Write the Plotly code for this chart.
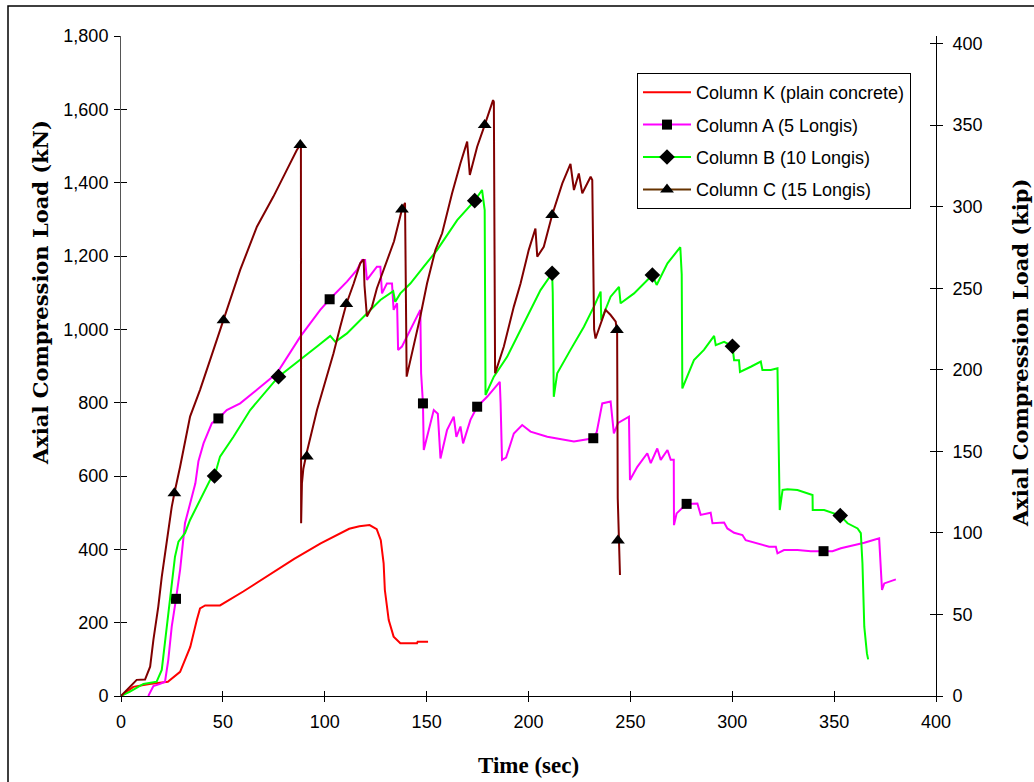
import plotly.graph_objects as go

# ---- Column K (plain concrete) ----
k_time = [0, 6, 14, 23, 29, 34, 37.2, 38.8, 41.3, 48.6, 60, 72, 85, 98, 105, 112, 117, 122,
          125.5, 127.5, 128.9, 129.5, 131.4, 133.8, 137.1, 145.3, 145.6, 150.7]
k_load = [0, 25, 33, 39, 66, 134, 207, 239, 247, 247, 285, 327, 374, 416, 436, 456, 463, 466,
          455, 425, 362, 289, 207, 162, 144, 144, 148, 148]

# ---- Column A (5 Longis) ----
a_time = [13.4, 15.9, 19.2, 21.6, 23.2, 24.9, 27, 29, 31.4, 34, 36.5, 38, 40.5, 44.6, 47.8,
          51.9, 58.5, 66.7, 76.5, 88, 97.8, 102.4, 110.9, 115.8, 118.3, 119.8, 120.7, 125.6,
          127.3, 128.1, 130.5, 133, 133.8, 135.5, 136, 137.9, 143.6, 146.9, 147.3, 148.2, 148.6,
          151.8, 153.5, 155.5, 156.8, 160, 163.3, 164.6, 166.6, 167.9, 171.5, 174.8, 179.7,
          185.9, 186.3, 187, 189, 192.8, 196.9, 201, 209.2, 222.3, 231.8, 233.5, 236.2, 240.3,
          241.9, 244, 249.3, 249.8, 253.4, 258.3, 260, 263.2, 264.9, 268.2, 269.8, 271.3, 271.4,
          272.7, 277.6, 282.9, 284.5, 289.4, 290.3, 296, 297.6, 300.9, 305, 306.6, 312.4, 318.1,
          321.4, 322.2, 325.4, 332, 338.6, 344.8, 349.2, 353.3, 358.2, 364.8, 368.9, 372.1,
          373.5, 374.6, 380.3]
a_load = [0, 27, 33, 39, 98, 189, 265, 344, 471, 530, 580, 640, 689, 744, 757,
          780, 798, 835, 880, 980, 1053, 1082, 1130, 1162, 1189, 1189, 1135, 1171,
          1171, 1098, 1125, 1125, 1053, 1071, 944, 953, 1016, 1053, 880, 798, 671,
          744, 780, 770, 648, 725, 762, 707, 735, 689, 753, 789, 816,
          857, 800, 644, 650, 716, 739, 721, 707, 694, 703, 720, 798, 803,
          716, 745, 762, 589, 625, 662, 635, 675, 644, 671, 644, 644, 466,
          498, 524, 525, 494, 500, 471, 473, 457, 445, 439, 425, 416, 407,
          407, 389, 398, 398, 395, 395, 395, 403, 409, 418, 425, 430,
          289, 307, 318]
a_mark_time = [27, 47.8, 102.4, 148.2, 174.8, 231.8, 277.6, 344.8]
a_mark_load = [265, 757, 1082, 798, 789, 703, 524, 395]

# ---- Column B (10 Longis) ----
b_time = [0, 4.4, 11, 17.5, 20, 22.5, 24.9, 26.5, 28.2, 31.4, 33.9, 38.8, 43.7, 45.9, 48.6,
          55.2, 63.4, 77.3, 88, 96.2, 102.7, 105.2, 110.9, 120.7, 127.3, 133.6, 134.6, 137.1,
          142, 148.6, 155.1, 165, 173.6, 177.2, 178.5, 178.9, 183, 189.5, 194.4, 201, 205.9,
          211.6, 211.9, 212.4, 214.1, 220.6, 227.2, 232.1, 235.4, 235.7, 240.3, 244.4, 245.2,
          251.8, 260.8, 262.9, 268.2, 274.5, 275.2, 275.5, 277.1, 281.2, 286.1, 291.1, 291.9,
          296, 300.1, 300.9, 303.3, 303.8, 309.1, 314, 314.8, 318.9, 322.2, 323.3, 324.7, 327.1,
          332, 337, 339.4, 339.5, 345.1, 353, 356.6, 361.5, 363.1, 363.9, 364.8, 366.1, 366.7]
b_load = [0, 12, 33, 39, 71, 189, 298, 380, 421, 444, 480, 535, 589, 600, 653,
          707, 780, 871, 916, 953, 982, 966, 989, 1044, 1080, 1104, 1075, 1098,
          1125, 1171, 1216, 1298, 1351, 1380, 1325, 821, 871, 925, 980, 1053, 1107,
          1153, 1100, 816, 880, 944, 1007, 1062, 1103, 1025, 1089, 1116, 1071,
          1098, 1148, 1121, 1180, 1224, 1150, 839, 862, 916, 944, 982, 957,
          966, 954, 916, 916, 884, 898, 912, 889, 889, 894, 507, 562, 564,
          562, 553, 548, 507, 507, 492, 471, 457, 444, 362, 189, 116, 100]
b_mark_time = [45.9, 77.3, 173.6, 211.6, 260.8, 300.1, 353]
b_mark_load = [600, 871, 1351, 1153, 1148, 954, 492]

# ---- Column C (15 Longis) ----
c_time = [0, 6, 7.7, 11.8, 14.3, 15.9, 18.3, 20, 22.5, 24.9, 26.2, 29, 33.9, 38.8, 43.7, 50.3,
          55.2, 58.5, 66.7, 74.8, 81.4, 86.3, 88, 88.3, 88.4, 88.8, 89.5, 91.2, 96.2, 101.1,
          104.3, 107.6, 110.6, 114.2, 117.4, 119.1, 119.5, 120.7, 123.2, 125.6, 130, 134, 137.9,
          139.4, 140.2, 143.6, 146.9, 150.2, 154.3, 157.6, 162.5, 166.6, 169.9, 171.2, 172.3,
          174.8, 178.5, 181.3, 182.6, 183, 183.6, 187.9, 192.8, 196.1, 200.1, 203.4, 204.3,
          207.5, 211.6, 216.6, 220.6, 222.3, 224.7, 226.4, 230.5, 231.3, 232.2, 232.9, 235.4,
          237.8, 240.3, 242.8, 243.5, 243.8, 244.9]
c_load = [0, 33, 44, 45, 80, 153, 244, 325, 425, 516, 553, 625, 762, 835, 916, 1025,
          1107, 1162, 1280, 1362, 1435, 1489, 1503, 1505, 471, 580, 620, 665, 780, 871,
          935, 1007, 1069, 1125, 1180, 1191, 1120, 1035, 1062, 1112, 1180, 1240, 1327,
          1345, 871, 953, 1035, 1125, 1216, 1262, 1371, 1453, 1512, 1421, 1444,
          1498, 1557, 1607, 1625, 1620, 880, 953, 1062, 1125, 1216, 1275, 1198,
          1225, 1312, 1398, 1451, 1380, 1425, 1371, 1416, 1407, 1000, 975, 1016,
          1053, 1039, 1021, 990, 540, 330]
c_mark_time = [26.2, 50.3, 88, 91.2, 110.6, 137.9, 178.5, 211.6, 243.4, 243.9]
c_mark_load = [553, 1025, 1503, 653, 1069, 1327, 1557, 1312, 998, 424]

x_ticks = [0, 50, 100, 150, 200, 250, 300, 350, 400]
kn_ticks = [0, 200, 400, 600, 800, 1000, 1200, 1400, 1600, 1800]
kip_ticks = [0, 50, 100, 150, 200, 250, 300, 350, 400]
KN_PER_KIP = 4.448

SANS = "Liberation Sans, Arial, sans-serif"
SERIF = "Liberation Serif, Times New Roman, serif"
WIDE_SERIF = "DejaVu Serif, serif"
TICK_FONT = dict(family=SANS, size=18, color="black")

fig = go.Figure()

series = [
    ("Column K (plain concrete)", k_time, k_load, None, None, "#FF0000", "#FF0000", None),
    ("Column A (5 Longis)", a_time, a_load, a_mark_time, a_mark_load, "#FF00FF", "#FF00FF", "square"),
    ("Column B (10 Longis)", b_time, b_load, b_mark_time, b_mark_load, "#00FF00", "#00FF00", "diamond"),
    ("Column C (15 Longis)", c_time, c_load, c_mark_time, c_mark_load, "#800000", "#663300", "triangle-up"),
]
marker_sizes = {"square": 10, "diamond": 12, "triangle-up": 12}

for i, (name, t, load, mt, ml, color, legend_color, symbol) in enumerate(series):
    fig.add_trace(go.Scatter(x=t, y=load, mode="lines", line=dict(color=color, width=2),
                             showlegend=False, hoverinfo="skip"))
    if mt is not None:
        fig.add_trace(go.Scatter(x=mt, y=ml, mode="markers",
                                 marker=dict(symbol=symbol, color="black", size=marker_sizes[symbol]),
                                 showlegend=False, hoverinfo="skip"))
    # legend entry
    if symbol is None:
        fig.add_trace(go.Scatter(x=[None], y=[None], mode="lines", name=name,
                                 line=dict(color=legend_color, width=2), legendgroup=f"g{i}"))
    else:
        fig.add_trace(go.Scatter(x=[None], y=[None], mode="lines+markers", name=name,
                                 line=dict(color=legend_color, width=2), legendgroup=f"g{i}",
                                 marker=dict(symbol=symbol, color="black", size=marker_sizes[symbol])))

# helper traces so the secondary / tick-overlay axes are drawn
fig.add_trace(go.Scatter(x=[None], y=[None], yaxis="y2", showlegend=False, hoverinfo="skip"))
fig.add_trace(go.Scatter(x=[None], y=[None], xaxis="x2", showlegend=False, hoverinfo="skip"))
fig.add_trace(go.Scatter(x=[None], y=[None], yaxis="y3", showlegend=False, hoverinfo="skip"))
fig.add_trace(go.Scatter(x=[None], y=[None], yaxis="y4", showlegend=False, hoverinfo="skip"))

x_range = [0, 400]
kn_range = [0, 1800]
kip_range = [0, 1800 / KN_PER_KIP]

# plot area in pixels: x 121..936, y 36..696
PL, PR, PT, PB = 121, 936, 36, 696


def px(x):
    return (x - PL) / (PR - PL)


def py(y):
    return (PB - y) / (PB - PT)


fig.update_layout(
    width=1034, height=782,
    margin=dict(l=PL, r=1034 - PR, t=PT, b=782 - PB),
    paper_bgcolor="white", plot_bgcolor="white",
    xaxis=dict(range=x_range, tickvals=x_ticks, ticks="outside", ticklen=5, tickcolor="black",
               showline=True, linecolor="black", linewidth=1, showgrid=False, zeroline=False,
               tickfont=TICK_FONT, ticklabelstandoff=4),
    xaxis2=dict(range=x_range, tickvals=x_ticks, overlaying="x", anchor="y", side="bottom",
                ticks="inside", ticklen=5, tickcolor="black", showticklabels=False,
                showline=False, showgrid=False, zeroline=False),
    yaxis=dict(range=kn_range, tickvals=kn_ticks, tickformat=",", ticks="outside", ticklen=6,
               tickcolor="black", showline=True, linecolor="#555555", linewidth=1,
               showgrid=False, zeroline=False, tickfont=TICK_FONT, ticklabelstandoff=2),
    yaxis2=dict(range=kip_range, tickvals=kip_ticks, overlaying="y", side="right", anchor="x",
                ticks="outside", ticklen=6, tickcolor="black", showline=True, linecolor="black",
                linewidth=1, showgrid=False, zeroline=False, tickfont=TICK_FONT,
                ticklabelstandoff=6),
    yaxis3=dict(range=kn_range, tickvals=kn_ticks, overlaying="y", side="left", anchor="x",
                ticks="inside", ticklen=6, tickcolor="black", showticklabels=False,
                showline=False, showgrid=False, zeroline=False),
    yaxis4=dict(range=kip_range, tickvals=kip_ticks, overlaying="y", side="right", anchor="x",
                ticks="inside", ticklen=6, tickcolor="black", showticklabels=False,
                showline=False, showgrid=False, zeroline=False),
    legend=dict(x=px(637), y=py(73), xanchor="left", yanchor="top",
                bgcolor="white", bordercolor="black", borderwidth=1,
                font=dict(family=SANS, size=18, color="black"),
                tracegroupgap=6, itemwidth=48),
    annotations=[
        dict(text="<b>Axial Compression Load (kN)</b>", textangle=-90, showarrow=False,
             xref="paper", yref="paper", x=px(40), y=py(293), xanchor="center", yanchor="middle",
             font=dict(family=WIDE_SERIF, size=21, color="black")),
        dict(text="<b>Axial Compression Load (kip)</b>", textangle=-90, showarrow=False,
             xref="paper", yref="paper", x=px(1020), y=py(353), xanchor="center", yanchor="middle",
             font=dict(family=WIDE_SERIF, size=21, color="black")),
        dict(text="<b>Time (sec)</b>", showarrow=False,
             xref="paper", yref="paper", x=px(528), y=py(765), xanchor="center", yanchor="middle",
             font=dict(family=SERIF, size=23, color="black")),
    ],
    shapes=[dict(type="rect", xref="paper", yref="paper",
                 x0=px(8), x1=px(1040), y0=py(790), y1=py(6),
                 line=dict(color="black", width=1.5), fillcolor="rgba(0,0,0,0)", layer="below")],
)

fig.write_html("out.html")
